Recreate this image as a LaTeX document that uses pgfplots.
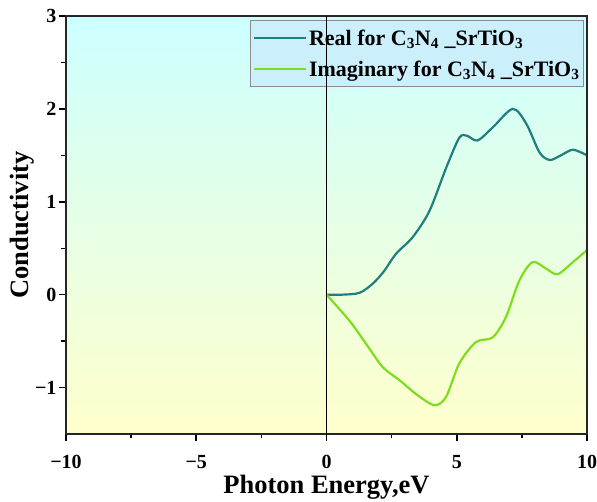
\documentclass[border=0pt]{standalone}
\usepackage{fontspec}
\setmainfont{Liberation Serif}
\usepackage{pgfplots}
\pgfplotsset{compat=1.18}
\definecolor{realc}{RGB}{31,127,127}
\definecolor{imagc}{RGB}{127,221,31}
\begin{document}
\begin{tikzpicture}
\begin{axis}[
  scale only axis,
  width=521pt, height=418pt,
  xmin=-10, xmax=10, ymin=-1.5, ymax=3,
  xtick={-10,-5,0,5,10}, ytick={-1,0,1,2,3},
  xticklabels={−10,−5,0,5,10},
  yticklabels={−1,0,1,2,3},
  minor tick num=1,
  tick align=outside,
  xtick pos=left, ytick pos=left,
  major tick length=7pt, minor tick length=4.5pt,
  tick style={black, line width=1.4pt},
  major tick style={black, line width=1.6pt},
  axis line style={line width=1.4pt, black!85},
  axis on top,
  ticklabel style={font=\bfseries\fontsize{20}{20}\selectfont},
  xticklabel style={yshift=-11pt},
  yticklabel style={xshift=1pt},
  xlabel={Photon Energy,eV},
  ylabel={Conductivity},
  label style={font=\bfseries\fontsize{26.5}{26.5}\selectfont},
  xlabel style={yshift=1pt},
  ylabel style={yshift=-6pt},
  legend cell align=left,
  legend style={at={(0.994,0.99)}, anchor=north east, fill=cyan!20, draw=black!45,
    line width=0.8pt, font=\bfseries\fontsize{22}{22}\selectfont,
    row sep=10pt, inner xsep=2pt, inner ysep=7pt},
  legend image code/.code={\draw[#1] (0pt,0pt) -- (52pt,0pt);},
]
\path[top color=cyan!20, bottom color=yellow!20] (rel axis cs:0,0) rectangle (rel axis cs:1,1);
\addplot[realc, line width=2.2pt, smooth] coordinates {
  (0,0) (0.6,0.0) (1.27,0.02) (1.78,0.12) (2.2,0.25) (2.67,0.44) (3.31,0.62)
  (3.95,0.90) (4.6,1.37) (5.1,1.69) (5.4,1.71) (5.8,1.66) (6.38,1.80)
  (7.15,2.00) (7.67,1.84) (8.18,1.53) (8.57,1.45) (9.0,1.50) (9.46,1.56) (10,1.50)
};
\addlegendentry{Real for C\textsubscript{3}N\textsubscript{4} \_SrTiO\textsubscript{3}}
\addplot[imagc, line width=2.2pt, smooth] coordinates {
  (0,0) (0.88,-0.28) (1.52,-0.53) (2.16,-0.78) (2.80,-0.92) (3.44,-1.07)
  (4.14,-1.19) (4.59,-1.10) (5.1,-0.74) (5.74,-0.51) (6.38,-0.46) (6.89,-0.24)
  (7.4,0.15) (7.91,0.35) (8.43,0.28) (8.87,0.22) (9.46,0.35) (10,0.48)
};
\addlegendentry{Imaginary for C\textsubscript{3}N\textsubscript{4} \_SrTiO\textsubscript{3}}
\coordinate (vt) at (axis cs:0,3);
\coordinate (vb) at (axis cs:0,-1.5);
\coordinate (sw) at (rel axis cs:0,0);
\end{axis}
\draw[black, line width=1.5pt] (vb) -- (vt);
\pgfresetboundingbox
\path (sw) ++(-66pt,-68pt) rectangle ++(597pt,502pt);
\end{tikzpicture}
\end{document}
